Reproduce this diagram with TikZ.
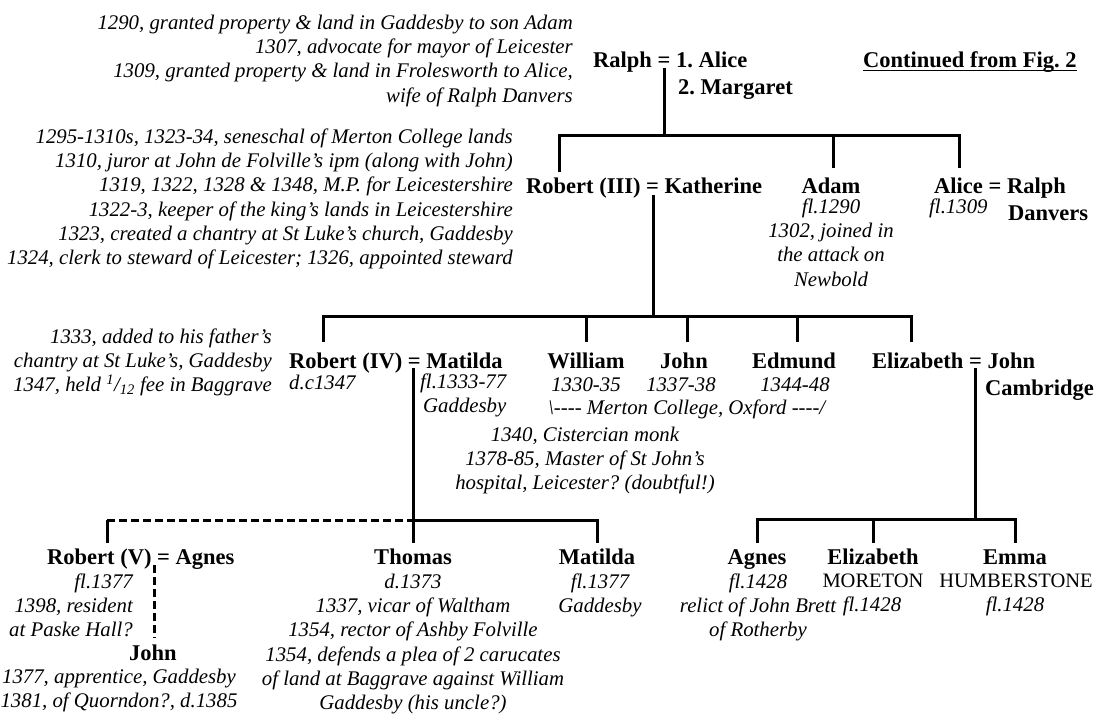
\documentclass[tikz,border=0pt]{standalone}
\usepackage{fontspec}
\setmainfont{Liberation Serif}
\frenchspacing
\newcommand\itf{\fontsize{20.8}{24.3}\selectfont\itshape}
\newcommand\bff{\fontsize{22.5}{24.3}\selectfont\bfseries}
\newcommand\rmf{\fontsize{20.5}{24.3}\selectfont}
\begin{document}
\begin{tikzpicture}[x=1pt,y=-1pt,
  person/.style={font=\bff, inner sep=0pt},
  note/.style={font=\itf, inner sep=0pt},
  plain/.style={font=\rmf, inner sep=0pt},
  rel/.style={line width=3pt, line join=miter},
  maybe/.style={rel, dash pattern=on 8pt off 4pt}]
\useasboundingbox[fill=white] (0,0) rectangle (1096,713);

% ---------- generation 1 ----------
\node[note, anchor=north east, align=right] (ralphnotes) at (573,12)
  {\strut 1290, granted property \& land in Gaddesby to son Adam\\
   1307, advocate for mayor of Leicester\\
   1309, granted property \& land in Frolesworth to Alice,\\
   wife of Ralph Danvers};
\node[person, anchor=base west] (ralph) at (593,67) {Ralph = 1. Alice};
\node[person, anchor=base west] (marg) at (678,94) {2. Margaret};
\node[person, anchor=base west] (cont) at (863,67) {Continued from Fig. 2};
\draw[line width=1.5pt] ([yshift=-3.5pt]cont.base west) -- ([yshift=-3.5pt]cont.base east);

% ---------- generation 2 ----------
\node[note, anchor=north east, align=right] (r3notes) at (513,126)
  {\strut 1295-1310s, 1323-34, seneschal of Merton College lands\\
   1310, juror at John de Folville's ipm (along with John)\\
   1319, 1322, 1328 \& 1348, M.P. for Leicestershire\\
   1322-3, keeper of the king's lands in Leicestershire\\
   1323, created a chantry at St Luke's church, Gaddesby\\
   1324, clerk to steward of Leicester; 1326, appointed steward};
\node[person, anchor=base west] (r3) at (526,193) {Robert (III) = Katherine};
\node[person, anchor=base] (adam) at (831,193) {Adam};
\node[note, anchor=north, align=center] (adamnotes) at (831,196)
  {\strut fl.1290\\1302, joined in\\the attack on\\Newbold};
\node[person, anchor=base west] (alice) at (934,193) {Alice = Ralph};
\node[person, anchor=base west] (danv) at (1008,220) {Danvers};
\node[note, anchor=base west] (alicenotes) at (929,213) {fl.1309};

% ---------- generation 3 ----------
\node[note, anchor=north east, align=right] (r4notes) at (272,326)
  {\strut 1333, added to his father's\\
   chantry at St Luke's, Gaddesby\\
   1347, held \textsuperscript{1}/\textsubscript{12} fee in Baggrave};
\node[person, anchor=base west] (r4) at (289,368) {Robert (IV) = Matilda};
\node[note, anchor=base west] (r4d) at (289,389) {d.c1347};
\node[note, anchor=north west, align=left] (matnotes) at (420,371)
  {\strut fl.1333-77\\\hspace*{3pt}Gaddesby};
\node[person, anchor=base] (will) at (586,368) {William};
\node[note, anchor=base] (willd) at (586,391) {1330-35};
\node[person, anchor=base] (john) at (684,368) {John};
\node[note, anchor=base] (johnd) at (681,391) {1337-38};
\node[person, anchor=base] (edm) at (794,368) {Edmund};
\node[note, anchor=base] (edmd) at (795,391) {1344-48};
\node[note, anchor=base west] (merton) at (548,414)
  {\textbackslash{-}{-}{-}{-} Merton College, Oxford {-}{-}{-}{-}/};
\node[note, anchor=north, align=center] (johnnotes) at (585,424)
  {\strut 1340, Cistercian monk\\
   1378-85, Master of St John's\\
   hospital, Leicester? (doubtful!)};
\node[person, anchor=base west] (eliz) at (872,368) {Elizabeth = John};
\node[person, anchor=base west] (camb) at (985,395) {Cambridge};

% ---------- generation 4 ----------
\node[person, anchor=base west] (r5) at (47,564) {Robert (V) = Agnes};
\node[note, anchor=north east, align=right] (r5notes) at (133,571)
  {\strut fl.1377\\1398, resident\\at Paske Hall?};
\node[person, anchor=base] (john5) at (153,660) {John};
\node[note, anchor=north, align=center] (john5notes) at (119,666)
  {\strut 1377, apprentice, Gaddesby\\1381, of Quorndon?, d.1385};
\node[person, anchor=base] (thomas) at (413,564) {Thomas};
\node[note, anchor=north, align=center] (thomasnotes) at (413,571)
  {\strut d.1373\\
   1337, vicar of Waltham\\
   1354, rector of Ashby Folville\\
   1354, defends a plea of 2 carucates\\
   of land at Baggrave against William\\
   Gaddesby (his uncle?)};
\node[person, anchor=base] (mat2) at (597,564) {Matilda};
\node[note, anchor=north, align=center] (mat2notes) at (600,571)
  {\strut fl.1377\\Gaddesby};
\node[person, anchor=base] (agnes) at (757,564) {Agnes};
\node[note, anchor=north, align=center] (agnesnotes) at (758,571)
  {\strut fl.1428\\relict of John Brett\\of Rotherby};
\node[person, anchor=base] (eliz2) at (873,564) {Elizabeth};
\node[plain, anchor=base] (moreton) at (873,587) {MORETON};
\node[note, anchor=base] (eliz2d) at (872,611) {fl.1428};
\node[person, anchor=base] (emma) at (1015,564) {Emma};
\node[plain, anchor=base] (humb) at (1016,587) {HUMBERSTONE};
\node[note, anchor=base] (emmad) at (1015,611) {fl.1428};

% ---------- connector points ----------
\coordinate (ralphEq) at (664,68);
\coordinate (bar1) at (664,135);
\coordinate (r3up) at (559,172);
\coordinate (adamup) at (833,168);
\coordinate (aliceup) at (959,168);

\coordinate (r3Eq) at (653,195);
\coordinate (bar2) at (653,316);
\coordinate (r4up) at (323,342);
\coordinate (willup) at (586,342);
\coordinate (johnup) at (687,342);
\coordinate (edmup) at (797,342);
\coordinate (elizup) at (911,342);

\coordinate (r4Eq) at (413,368);
\coordinate (bar3) at (413,520);
\coordinate (thomasup) at (413,543);
\coordinate (r5up) at (107,543);
\coordinate (mat2up) at (597,543);
\coordinate (r5Eq) at (154,565);
\coordinate (john5up) at (154,638);

\coordinate (elizEq) at (975,368);
\coordinate (bar4) at (975,519);
\coordinate (agnesup) at (757,543);
\coordinate (eliz2up) at (873,543);
\coordinate (emmaup) at (1015,543);

% ---------- descent lines ----------
\draw[rel] (ralphEq) -- (bar1);
\draw[rel] (r3up) |- (bar1) -| (aliceup);
\draw[rel] (adamup) -- (adamup |- bar1);

\draw[rel] (r3Eq) -- (bar2);
\draw[rel] (r4up) |- (bar2) -| (elizup);
\draw[rel] (willup) -- (willup |- bar2);
\draw[rel] (johnup) -- (johnup |- bar2);
\draw[rel] (edmup) -- (edmup |- bar2);

\draw[rel] (r4Eq) -- (thomasup);
\draw[rel] (bar3) -| (mat2up);
\draw[rel] (r5up) -- (r5up |- bar3);
\draw[maybe] (r5up |- bar3) -- (bar3);
\draw[maybe] (r5Eq) -- (john5up);

\draw[rel] (elizEq) -- (bar4);
\draw[rel] (agnesup) |- (bar4) -| (emmaup);
\draw[rel] (eliz2up) -- (eliz2up |- bar4);
\end{tikzpicture}
\end{document}
